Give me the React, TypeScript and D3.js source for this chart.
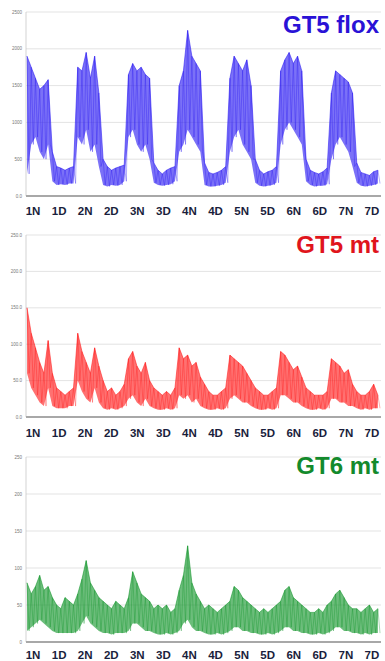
import React from "react";
import * as d3 from "d3";

const segments = ["1N", "1D", "2N", "2D", "3N", "3D", "4N", "4D", "5N", "5D", "6N", "6D", "7N", "7D"];

// six samples per half day, upper and lower edge of the activity trace
const floxHigh = [
  1900, 1750, 1600, 1450, 1500, 1580,
  600, 400, 380, 350, 380, 400,
  1750, 1700, 1950, 1600, 1900, 1400,
  500, 400, 350, 380, 400, 420,
  1650, 1800, 1700, 1750, 1650, 1600,
  450, 350, 300, 350, 380, 400,
  1500, 1700, 2250, 1900, 1800, 1700,
  450, 320, 300, 320, 350, 400,
  1600, 1900, 1800, 1700, 1850, 1500,
  500, 350, 300, 330, 350, 400,
  1700, 1850, 1950, 1800, 1900, 1700,
  500, 350, 320, 300, 330, 380,
  1400, 1700, 1650, 1600, 1550, 1400,
  450, 320, 300, 280, 330, 350,
];
const floxLow = [
  300, 700, 800, 600, 500, 700,
  200, 150, 160, 150, 170, 170,
  800, 700, 900, 600, 700, 400,
  150, 130, 150, 140, 150, 200,
  800, 900, 700, 600, 700, 500,
  180, 150, 140, 150, 160, 200,
  600, 700, 900, 800, 700, 600,
  150, 130, 130, 140, 150, 180,
  600, 800, 900, 700, 600, 500,
  180, 140, 130, 140, 150, 180,
  700, 900, 1000, 900, 800, 700,
  200, 150, 130, 140, 140, 160,
  500, 700, 800, 700, 600, 400,
  180, 140, 130, 140, 150, 170,
];

const gt5High = [
  150, 115, 95, 75, 60, 105,
  60, 40, 35, 30, 35, 40,
  115, 90, 75, 60, 95, 70,
  50, 35, 40, 30, 35, 45,
  80, 90, 70, 60, 75, 50,
  40, 35, 30, 35, 30, 40,
  95, 80, 85, 70, 75, 55,
  45, 35, 30, 30, 35, 40,
  85, 80, 75, 70, 60, 50,
  40, 35, 30, 30, 35, 40,
  90, 85, 75, 65, 70, 55,
  40, 35, 30, 30, 30, 35,
  80, 75, 70, 60, 65, 45,
  35, 30, 30, 35, 45, 30,
];
const gt5Low = [
  60, 40, 30, 20, 15, 40,
  15, 12, 12, 12, 15, 15,
  50, 35, 25, 20, 40, 20,
  12, 10, 12, 10, 12, 15,
  25, 30, 20, 15, 25, 15,
  12, 10, 10, 12, 10, 12,
  30, 25, 30, 20, 25, 15,
  12, 10, 10, 12, 10, 12,
  25, 30, 25, 20, 20, 15,
  12, 10, 10, 12, 10, 12,
  30, 30, 25, 20, 20, 15,
  12, 10, 10, 12, 10, 12,
  25, 25, 20, 20, 15, 15,
  12, 10, 12, 10, 12, 12,
];

const gt6High = [
  80, 65, 75, 90, 70, 75,
  60, 50, 45, 60, 55, 50,
  65, 85, 110, 80, 70, 60,
  55, 50, 45, 55, 50, 45,
  60, 95, 80, 65, 60, 55,
  45, 50, 45, 50, 40, 45,
  70, 90, 130, 80, 65, 55,
  45, 50, 45, 40, 45, 50,
  55, 75, 70, 60, 55, 50,
  45, 40, 45, 40, 45, 50,
  55, 70, 75, 60, 55, 50,
  45, 40, 40, 45, 40, 50,
  55, 65, 70, 60, 50, 45,
  45, 40, 45, 50, 40, 45,
];
const gt6Low = [
  15, 20, 25, 30, 25, 20,
  15, 12, 12, 12, 12, 12,
  15, 25, 35, 25, 20, 15,
  12, 12, 10, 12, 12, 12,
  15, 25, 25, 20, 15, 15,
  12, 10, 10, 12, 10, 12,
  15, 25, 30, 20, 15, 15,
  12, 10, 10, 12, 10, 12,
  15, 20, 20, 15, 15, 12,
  12, 10, 10, 12, 10, 12,
  15, 20, 20, 15, 15, 12,
  12, 10, 10, 12, 10, 12,
  15, 20, 20, 15, 15, 12,
  12, 10, 12, 10, 12, 12,
];

const floxTicks = [0, 500, 1000, 1500, 2000, 2500];
const gt5Ticks = [0, 50, 100, 150, 200, 250];
const gt6Ticks = [0, 50, 100, 150, 200, 250];

const left = 26;
const right = 381;

interface IPanelProps {
  title: string;
  titleColor: string;
  color: string;
  high: number[];
  low: number[];
  ticks: number[];
  fmt: (v: number) => string;
  top: number;
  bottom: number;
  titleY: number;
  labelY: number;
}

const Panel = (props: IPanelProps) => {
  const n = props.high.length;
  const x = d3.scaleLinear().domain([0, n - 0.5]).range([left + 1, right - 1]);
  const y = d3
    .scaleLinear()
    .domain([0, d3.max(props.ticks) as number])
    .range([props.bottom, props.top]);
  const band = d3.scaleBand().domain(segments).range([20, 385]);

  const area = d3
    .area<number>()
    .x((_, i) => x(i))
    .y0((_, i) => y(props.low[i]))
    .y1((d) => y(d));

  // zigzag trace between the upper and lower edge
  const pts: [number, number][] = [];
  props.high.forEach((h, i) => {
    pts.push([x(i), y(h)]);
    pts.push([x(i + 0.5), y(props.low[i])]);
  });
  const line = d3.line();
  const edge = d3
    .line<number>()
    .x((_, i) => x(i))
    .y((d) => y(d));

  return (
    <g>
      {props.ticks.map((t) => (
        <g key={t}>
          <line x1={left} x2={right} y1={y(t)} y2={y(t)} stroke="#dcdcdc" strokeWidth={0.8} />
          <text
            x={left - 4}
            y={y(t) + 1.5}
            textAnchor="end"
            fontSize={4.5}
            fill="#777"
            fontFamily="Liberation Sans, Arial, sans-serif"
          >
            {props.fmt(t)}
          </text>
        </g>
      ))}
      <line x1={left} x2={left} y1={props.top} y2={props.bottom} stroke="#c8c8c8" strokeWidth={0.8} />
      <path d={area(props.high) as string} fill={props.color} fillOpacity={0.62} />
      <path d={line(pts) as string} fill="none" stroke={props.color} strokeWidth={0.6} strokeOpacity={0.6} />
      <path d={edge(props.high) as string} fill="none" stroke={props.color} strokeWidth={0.8} strokeOpacity={0.7} />
      <line x1={left} x2={right} y1={props.bottom} y2={props.bottom} stroke="#a8a8a8" strokeWidth={2} />
      {segments.map((s) => (
        <text
          key={s}
          x={(band(s) as number) + band.bandwidth() / 2}
          y={props.labelY}
          textAnchor="middle"
          fontSize={11.5}
          fontWeight="bold"
          fill="#1a1e3c"
          fontFamily="Liberation Sans, Arial, sans-serif"
        >
          {s}
        </text>
      ))}
      <text
        x={379}
        y={props.titleY}
        textAnchor="end"
        fontSize={24}
        fontWeight="bold"
        fill={props.titleColor}
        fontFamily="Liberation Sans, Arial, sans-serif"
      >
        {props.title}
      </text>
    </g>
  );
};

const App = () => {
  return (
    <svg
      width={385}
      height={661}
      style={{ position: "absolute", left: 0, top: 0, background: "#fff" }}
    >
      <Panel
        title="GT5 flox"
        titleColor="#2a12d6"
        color="#2a1af2"
        high={floxHigh}
        low={floxLow}
        ticks={floxTicks}
        fmt={(v) => (v === 0 ? "0.0" : String(v))}
        top={12}
        bottom={196}
        titleY={33}
        labelY={215}
      />
      <Panel
        title="GT5 mt"
        titleColor="#e0141c"
        color="#ff1a1a"
        high={gt5High}
        low={gt5Low}
        ticks={gt5Ticks}
        fmt={d3.format(".1f")}
        top={235}
        bottom={417}
        titleY={253}
        labelY={437}
      />
      <Panel
        title="GT6 mt"
        titleColor="#138a2c"
        color="#11952a"
        high={gt6High}
        low={gt6Low}
        ticks={gt6Ticks}
        fmt={d3.format("d")}
        top={457}
        bottom={642}
        titleY={474}
        labelY={659}
      />
    </svg>
  );
};

export default App;
